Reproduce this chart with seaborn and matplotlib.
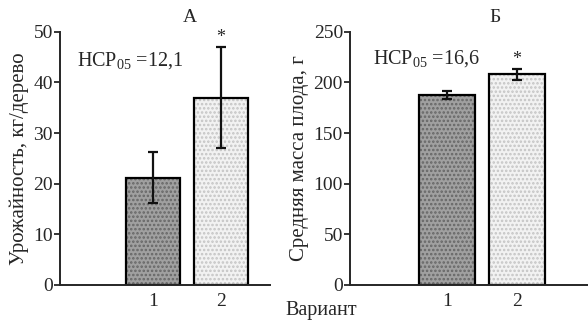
import matplotlib
matplotlib.use("Agg")
import matplotlib.pyplot as plt
import seaborn as sns
import pandas as pd
import numpy as np

variants = ["1", "2"]
yield_vals = [21.2, 37.0]
yield_err = [5.0, 10.0]
mass_vals = [188.0, 208.0]
mass_err = [4.0, 5.5]
lsd_labels = ["12,1", "16,6"]
panel_titles = ["А", "Б"]
ylabels = ["Урожайность, кг/дерево", "Средняя масса плода, г"]
xlabel = "Вариант"

sns.set_style("ticks")
plt.rcParams["font.family"] = ["Liberation Serif", "DejaVu Serif"]
plt.rcParams["mathtext.fontset"] = "custom"
plt.rcParams["mathtext.rm"] = "Liberation Serif"
plt.rcParams["mathtext.it"] = "Liberation Serif"
plt.rcParams["hatch.linewidth"] = 1.2

fig = plt.figure(figsize=(5.88, 3.22), dpi=100)
axL = fig.add_axes([0.102, 0.115, 0.357, 0.786])
axR = fig.add_axes([0.595, 0.115, 0.42, 0.786])

face = ["#a0a0a0", "#f2f2f2"]
hatchc = ["#666666", "#c4c4c4"]

def panel(ax, vals, errs, ylim, yticks, lsd, title, ylabel, xlim, star_off, title_x, lsd_xy):
    df = pd.DataFrame({"v": variants, "y": vals})
    sns.barplot(data=df, x="v", y="y", ax=ax, width=0.79, errorbar=None,
                color="white", edgecolor="black", linewidth=1.6, zorder=2)
    for p, fc, hc in zip(ax.patches, face, hatchc):
        p.set_facecolor(fc)
        p.set_hatch("....")
        p._hatch_color = matplotlib.colors.to_rgba(hc)
    pos = np.arange(len(variants))
    ax.errorbar(pos, vals, yerr=errs, fmt="none", ecolor="#111111",
                elinewidth=1.6, capsize=3.5, capthick=1.6, zorder=3)
    ax.text(pos[1], vals[1] + errs[1] + star_off, "*", ha="center", va="center",
            fontsize=13)
    ax.set_ylim(*ylim)
    ax.set_yticks(yticks)
    ax.set_xlim(*xlim)
    ax.set_ylabel(ylabel, fontsize=15, labelpad=3)
    ax.set_xlabel("")
    ax.tick_params(axis="y", labelsize=14, length=4, width=1.3, pad=1)
    ax.tick_params(axis="x", labelsize=14, length=0, pad=6)
    for s in ["top", "right"]:
        ax.spines[s].set_visible(False)
    for s in ["left", "bottom"]:
        ax.spines[s].set_linewidth(1.4)
    ax.text(lsd_xy[0], lsd_xy[1], r"НСР$_{\mathregular{05}}$ =" + lsd, transform=ax.transAxes,
            fontsize=14.5, ha="left", va="center")
    fig.text(title_x, 0.945, title, fontsize=14, ha="center", va="center")

panel(axL, yield_vals, yield_err, (0, 50), [0, 10, 20, 30, 40, 50], lsd_labels[0],
      panel_titles[0], ylabels[0], (-1.37, 1.72), 1.8, 190 / 588, (0.08, 0.885))
panel(axR, mass_vals, mass_err, (0, 250), [0, 50, 100, 150, 200, 250], lsd_labels[1],
      panel_titles[1], ylabels[1], (-1.385, 2.14), 9, 495 / 588, (0.095, 0.895))

fig.text(321 / 588, 1 - 310 / 322, xlabel, fontsize=14.5, ha="center", va="center")
fig.savefig("out.png", dpi=100)
